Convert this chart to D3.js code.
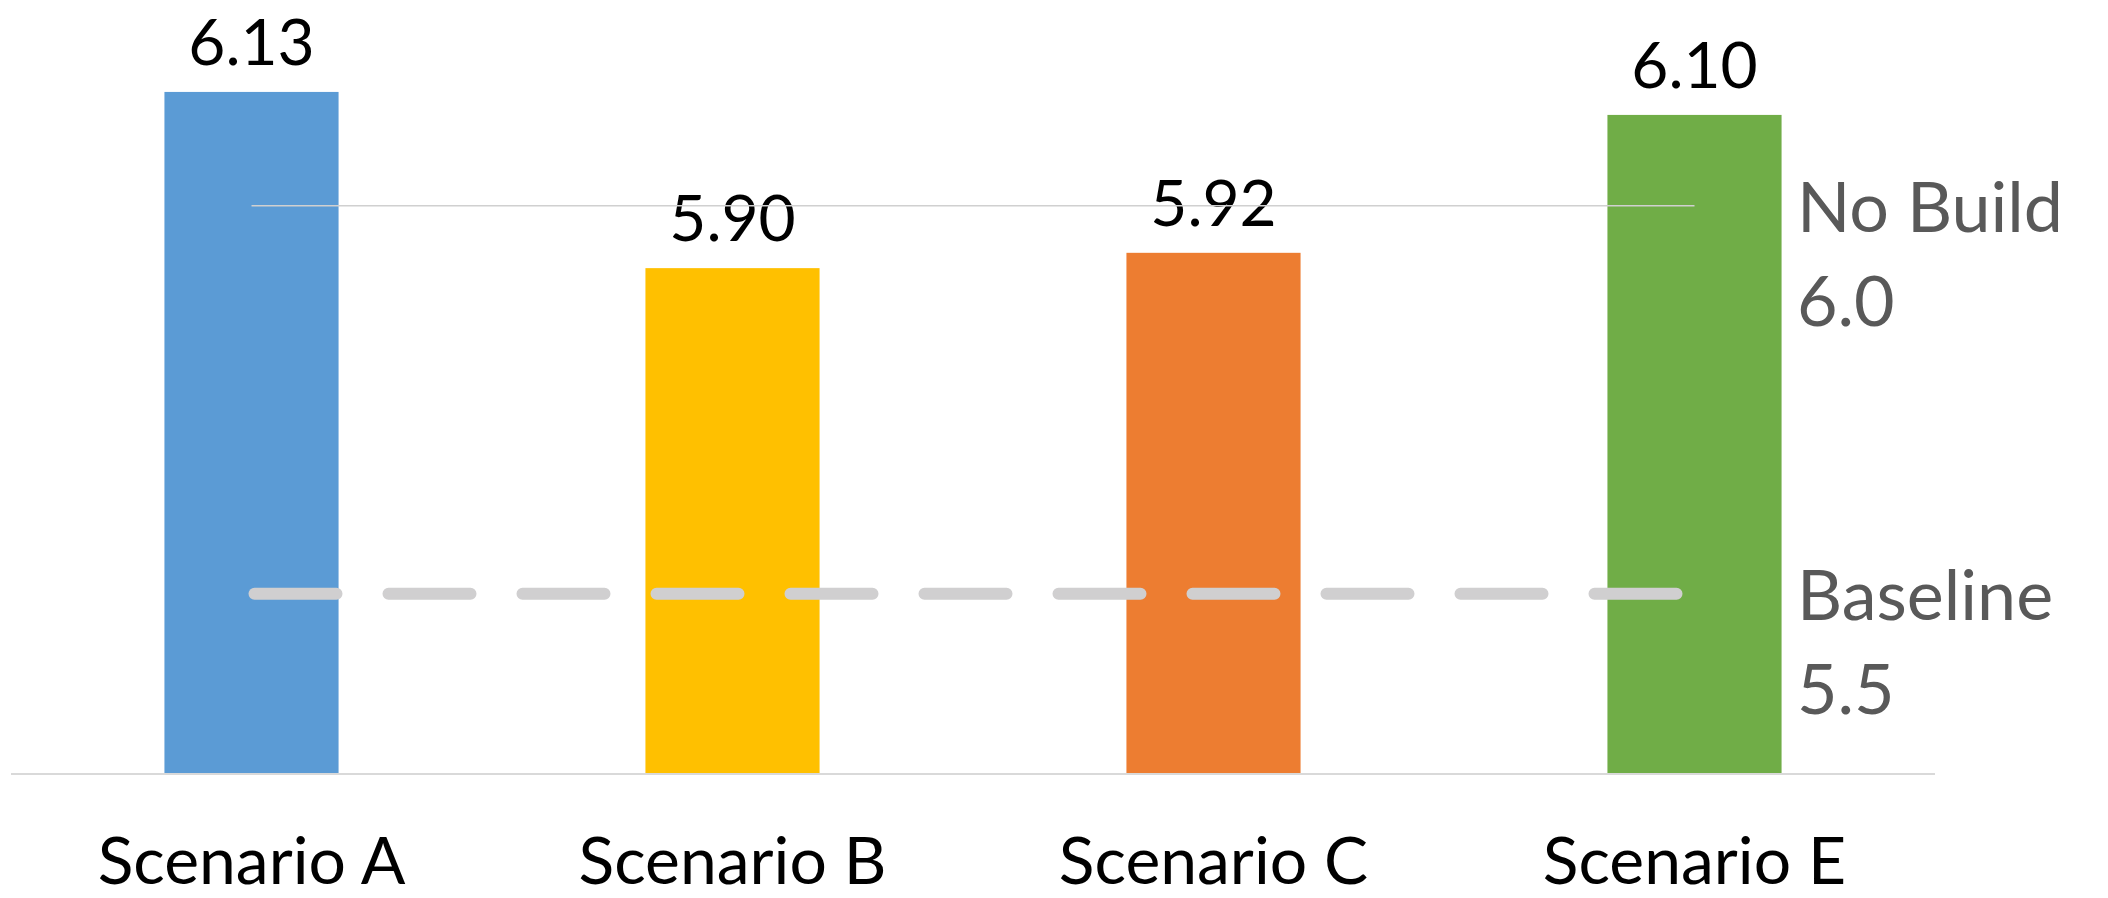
<!DOCTYPE html>
<html>
<head>
<meta charset="utf-8">
<script src="https://cdn.jsdelivr.net/npm/d3@7"></script>
<style>
  body { margin: 0; background: #fff; }
  text { font-family: Lato, "Open Sans", sans-serif; }
</style>
</head>
<body>
<svg id="chart" width="2108" height="898"></svg>
<script>
// data
var scenarios = ["Scenario A", "Scenario B", "Scenario C", "Scenario E"];
var values = [6.13, 5.90, 5.92, 6.10];
var barColors = ["#5b9bd5", "#ffc000", "#ed7d31", "#70ad47"];
var refNames = ["No Build", "Baseline"];
var refValues = [6.0, 5.5];

var svg = d3.select("#chart");

var xScale = d3.scaleBand()
	.domain(scenarios)
	.range([11, 1935])
	.paddingInner(0.638)
	.paddingOuter(0.319);

//Primary axis for bars
var yScale = d3.scaleLinear()
	.domain([5.241, 6.25])
	.range([773, 0]);

//Secondary axis for the reference lines
var yRef = d3.scaleLinear()
	.domain([5.269, 6.265])
	.range([773, 0]);

//Bars
svg.selectAll(".bar")
	.data(values)
	.enter().append("rect")
	.attr("class", "bar")
	.attr("x", function(d, i) { return xScale(scenarios[i]); })
	.attr("y", function(d) { return yScale(d); })
	.attr("width", xScale.bandwidth())
	.attr("height", function(d) { return yScale.range()[0] - yScale(d); })
	.attr("fill", function(d, i) { return barColors[i]; });

//Axis line
svg.append("line")
	.attr("x1", xScale.range()[0]).attr("x2", xScale.range()[1])
	.attr("y1", yScale.range()[0] + 1).attr("y2", yScale.range()[0] + 1)
	.attr("stroke", "#d9d9d9").attr("stroke-width", 2);

//Category labels
svg.selectAll(".cat")
	.data(scenarios)
	.enter().append("text")
	.attr("class", "cat")
	.attr("x", function(d) { return xScale(d) + xScale.bandwidth() / 2; })
	.attr("y", 884)
	.attr("text-anchor", "middle")
	.attr("font-size", 66)
	.attr("fill", "#000")
	.text(function(d) { return d; });

//Value labels
svg.selectAll(".val")
	.data(values)
	.enter().append("text")
	.attr("class", "val")
	.attr("x", function(d, i) { return xScale(scenarios[i]) + xScale.bandwidth() / 2; })
	.attr("y", function(d) { return yScale(d) - 27; })
	.attr("text-anchor", "middle")
	.attr("font-size", 64)
	.attr("fill", "#000")
	.text(function(d) { return d.toFixed(2); });

//Reference lines: span centre of first bar to centre of last bar
var xFirst = xScale(scenarios[0]) + xScale.bandwidth() / 2;
var xLast = xScale(scenarios[scenarios.length - 1]) + xScale.bandwidth() / 2;

//No Build - thin solid
svg.append("line")
	.attr("x1", xFirst).attr("x2", xLast)
	.attr("y1", yRef(refValues[0])).attr("y2", yRef(refValues[0]))
	.attr("stroke", "#d0d0d0").attr("stroke-width", 1.5);

//Baseline - thick dashed, round caps
svg.append("line")
	.attr("x1", xFirst + 3).attr("x2", xLast - 9)
	.attr("y1", yRef(refValues[1])).attr("y2", yRef(refValues[1]))
	.attr("stroke", "#d0cfd0").attr("stroke-width", 12)
	.attr("stroke-linecap", "round")
	.attr("stroke-dasharray", "82 52");

//Reference labels
var refLabels = svg.selectAll(".ref")
	.data(refValues)
	.enter().append("text")
	.attr("class", "ref")
	.attr("x", 1797)
	.attr("y", function(d) { return yRef(d) + 26; })
	.attr("font-size", 70)
	.attr("fill", "#595959");

refLabels.append("tspan")
	.attr("x", 1797)
	.text(function(d, i) { return refNames[i]; });

refLabels.append("tspan")
	.attr("x", 1797)
	.attr("dy", 94)
	.text(function(d) { return d.toFixed(1); });
</script>
</body>
</html>
